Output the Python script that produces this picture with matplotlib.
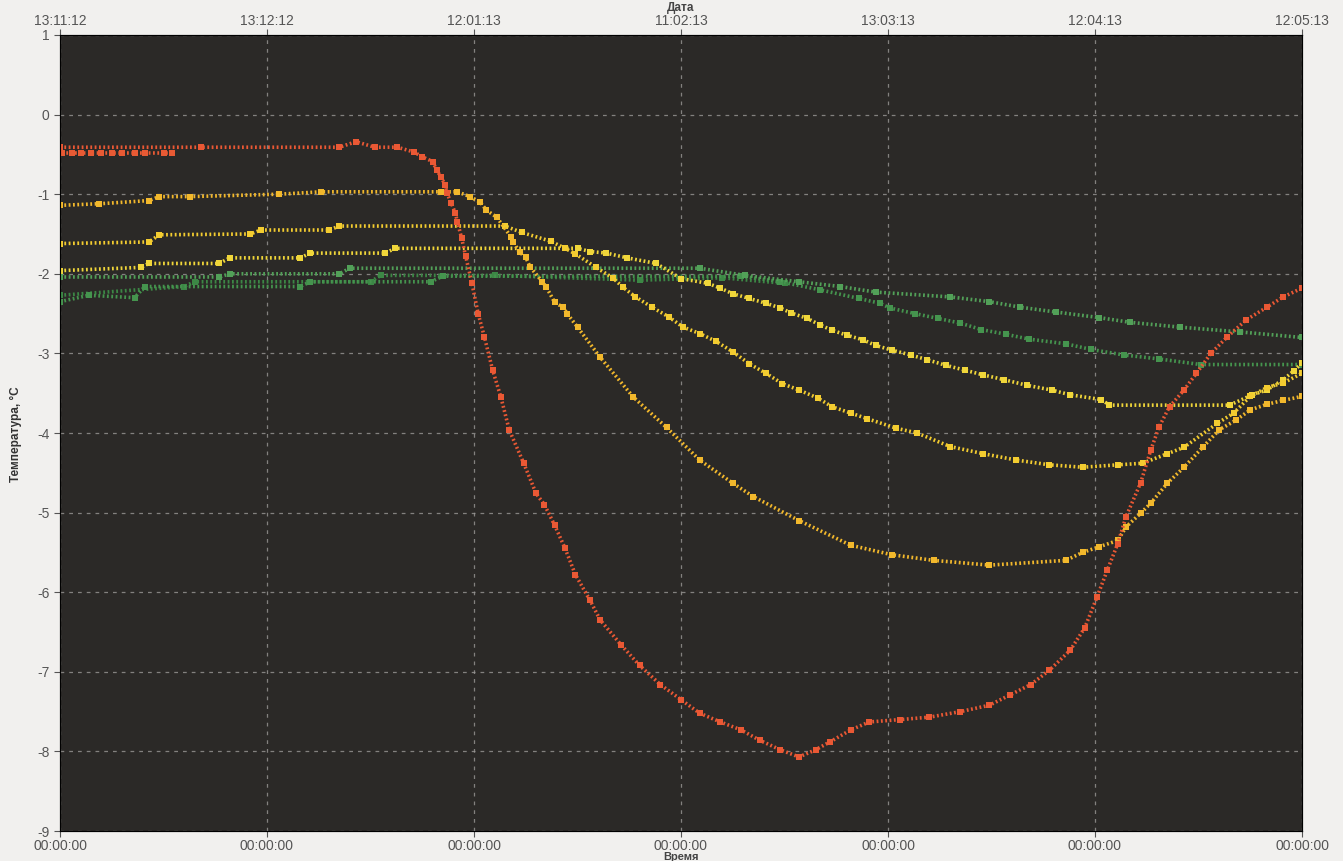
import matplotlib
matplotlib.use('Agg')
import matplotlib.pyplot as plt

plt.rcParams['axes.unicode_minus'] = False

# x in months from the first date tick, y in degrees C
top_labels = ['13:11:12', '13:12:12', '12:01:13', '11:02:13', '13:03:13', '12:04:13', '12:05:13']
bottom_labels = ['00:00:00'] * 7

red_x = [0.0, 0.68, 1.35, 1.43, 1.52, 1.63, 1.71, 1.75, 1.80, 1.82, 1.84, 1.86, 1.87, 1.89, 1.91,
         1.92, 1.94, 1.96, 1.99, 2.02, 2.05, 2.09, 2.13, 2.17, 2.24, 2.30, 2.34, 2.39, 2.44, 2.49,
         2.56, 2.61, 2.71, 2.80, 2.90, 3.00, 3.09, 3.19, 3.29, 3.38, 3.48, 3.57, 3.65, 3.72, 3.82,
         3.91, 4.06, 4.20, 4.35, 4.49, 4.59, 4.69, 4.78, 4.88, 4.95, 5.01, 5.06, 5.11, 5.15, 5.22,
         5.27, 5.31, 5.36, 5.43, 5.49, 5.56, 5.64, 5.73, 5.83, 5.91, 6.0]
red_y = [-0.41, -0.41, -0.41, -0.34, -0.41, -0.41, -0.47, -0.53, -0.59, -0.70, -0.78, -0.88, -0.99, -1.11, -1.24,
         -1.35, -1.55, -1.78, -2.12, -2.50, -2.79, -3.21, -3.55, -3.96, -4.38, -4.76, -4.90, -5.16, -5.45, -5.78,
         -6.10, -6.35, -6.66, -6.92, -7.16, -7.35, -7.52, -7.63, -7.73, -7.86, -7.98, -8.07, -7.98, -7.88, -7.73,
         -7.63, -7.60, -7.57, -7.50, -7.42, -7.29, -7.16, -6.98, -6.73, -6.45, -6.06, -5.72, -5.39, -5.05, -4.63,
         -4.21, -3.92, -3.67, -3.46, -3.25, -3.00, -2.79, -2.58, -2.42, -2.29, -2.18]

red2_x = [0.01, 0.06, 0.10, 0.15, 0.20, 0.25, 0.30, 0.36, 0.41, 0.50, 0.54]
red2_y = [-0.48] * 11

yel1_x = [0.0, 0.19, 0.43, 0.48, 0.63, 1.06, 1.26, 1.84, 1.92, 1.98, 2.03, 2.06, 2.11, 2.18, 2.19,
          2.22, 2.25, 2.27, 2.33, 2.35, 2.39, 2.43, 2.45, 2.50, 2.61, 2.77, 2.93, 3.09, 3.25, 3.35,
          3.57, 3.82, 4.02, 4.22, 4.49, 4.86, 4.94, 5.02, 5.11, 5.15, 5.22, 5.27, 5.35, 5.43, 5.52,
          5.60, 5.68, 5.75, 5.83, 5.91, 6.0]
yel1_y = [-1.14, -1.12, -1.08, -1.03, -1.03, -1.0, -0.97, -0.97, -0.97, -1.03, -1.10, -1.20, -1.29, -1.54, -1.60,
          -1.73, -1.79, -1.91, -2.10, -2.17, -2.36, -2.42, -2.50, -2.67, -3.05, -3.55, -3.93, -4.34, -4.63, -4.80,
          -5.10, -5.41, -5.53, -5.60, -5.66, -5.60, -5.50, -5.43, -5.35, -5.18, -5.01, -4.88, -4.63, -4.43, -4.18,
          -3.96, -3.84, -3.71, -3.64, -3.59, -3.54]

yel2_x = [0.0, 0.43, 0.48, 0.92, 0.97, 1.30, 1.35, 2.15, 2.23, 2.37, 2.44, 2.49, 2.59, 2.67, 2.72,
          2.78, 2.86, 2.94, 3.01, 3.09, 3.17, 3.25, 3.33, 3.41, 3.49, 3.57, 3.66, 3.73, 3.82, 3.90,
          4.04, 4.14, 4.30, 4.46, 4.62, 4.78, 4.94, 5.11, 5.23, 5.35, 5.43, 5.59, 5.67, 5.75, 5.83,
          5.91, 6.0]
yel2_y = [-1.62, -1.60, -1.51, -1.50, -1.45, -1.45, -1.40, -1.40, -1.48, -1.59, -1.68, -1.75, -1.92, -2.05, -2.17,
          -2.29, -2.42, -2.54, -2.67, -2.75, -2.85, -2.98, -3.13, -3.25, -3.38, -3.46, -3.56, -3.67, -3.75, -3.82,
          -3.94, -4.00, -4.17, -4.26, -4.34, -4.40, -4.43, -4.40, -4.38, -4.26, -4.18, -3.88, -3.75, -3.54, -3.43,
          -3.37, -3.25]

yel3_x = [0.0, 0.39, 0.43, 0.77, 0.82, 1.16, 1.21, 1.57, 1.62, 2.50, 2.56, 2.64, 2.74, 2.88, 3.00,
          3.13, 3.19, 3.25, 3.33, 3.41, 3.48, 3.53, 3.61, 3.67, 3.73, 3.80, 3.88, 3.94, 4.02, 4.11,
          4.19, 4.28, 4.37, 4.46, 4.56, 4.67, 4.79, 4.88, 5.03, 5.07, 5.65, 5.76, 5.83, 5.91, 5.96,
          6.0]
yel3_y = [-1.96, -1.92, -1.87, -1.87, -1.80, -1.80, -1.74, -1.74, -1.68, -1.68, -1.72, -1.74, -1.80, -1.87, -2.06,
          -2.12, -2.18, -2.25, -2.31, -2.37, -2.43, -2.49, -2.56, -2.64, -2.71, -2.77, -2.83, -2.90, -2.96, -3.02,
          -3.08, -3.15, -3.21, -3.27, -3.33, -3.40, -3.46, -3.52, -3.58, -3.65, -3.65, -3.52, -3.46, -3.33, -3.22,
          -3.12]

grn1_x = [0.0, 0.77, 0.82, 1.35, 1.40, 3.09, 3.31, 3.57, 3.77, 3.94, 4.30, 4.49, 4.64, 4.81, 5.02,
          5.17, 5.41, 5.70, 6.0]
grn1_y = [-2.04, -2.04, -2.00, -2.00, -1.93, -1.93, -2.02, -2.10, -2.16, -2.23, -2.29, -2.35, -2.42, -2.48, -2.55,
          -2.61, -2.67, -2.73, -2.80]

grn2_x = [0.0, 0.14, 0.36, 0.41, 1.16, 1.21, 1.79, 1.85, 3.29, 3.48, 3.67, 3.86, 3.96, 4.01, 4.13,
          4.24, 4.35, 4.45, 4.57, 4.68, 4.86, 4.98, 5.14, 5.31, 5.51, 6.0]
grn2_y = [-2.35, -2.27, -2.30, -2.16, -2.16, -2.10, -2.10, -2.03, -2.03, -2.10, -2.20, -2.31, -2.37, -2.43, -2.50,
          -2.56, -2.62, -2.70, -2.76, -2.82, -2.88, -2.95, -3.02, -3.07, -3.14, -3.14]

grn3_x = [0.0, 0.60, 0.65, 1.50, 1.55, 2.10, 2.80, 3.20, 3.50]
grn3_y = [-2.27, -2.16, -2.10, -2.10, -2.02, -2.02, -2.08, -2.05, -2.12]

series = [
    (grn3_x, grn3_y, '#3c8745'),
    (grn2_x, grn2_y, '#45944e'),
    (grn1_x, grn1_y, '#52a058'),
    (yel3_x, yel3_y, '#f0d63a'),
    (yel2_x, yel2_y, '#f3cc30'),
    (yel1_x, yel1_y, '#f2b82c'),
    (red2_x, red2_y, '#e85a34'),
    (red_x, red_y, '#ea5834'),
]

fig = plt.figure(figsize=(13.43, 8.61), dpi=100)
fig.patch.set_facecolor('#f1f0ee')
ax = fig.add_axes([60/1343, 1-831/861, 1242/1343, 796/861])
ax.set_facecolor('#2b2927')

for xs, ys, col in series:
    ax.plot(xs, ys, color=col, lw=2.6, linestyle=(0, (0.5, 0.7)), solid_capstyle='butt',
            marker='s', markersize=4.5, markeredgewidth=0, zorder=3)

ax.set_xlim(0, 6)
ax.set_ylim(-9, 1)
ax.set_yticks(range(-9, 2))
ax.set_xticks(range(7))
ax.set_xticklabels(bottom_labels)
ax.grid(True, color='#9a9896', lw=0.9, linestyle=(0, (3, 4)), alpha=0.8)
ax.tick_params(colors='#555555', labelsize=10, length=4, width=0.8)
ax.tick_params(axis='x', pad=2)
for lab in ax.get_xticklabels() + ax.get_yticklabels():
    lab.set_family('Liberation Sans')
for sp in ax.spines.values():
    sp.set_color('#222222')

ax2 = ax.twiny()
ax2.set_xlim(0, 6)
ax2.set_xticks(range(7))
ax2.set_xticklabels(top_labels, family='Liberation Sans')
ax2.tick_params(colors='#555555', labelsize=10, length=4, width=0.8, pad=1)

fig.text(681/1343, 1-8/861, 'Дата', ha='center', va='center', fontsize=8.5, weight='bold',
         color='#444444', family='Liberation Sans')
fig.text(681/1343, 1-857/861, 'Время', ha='center', va='center', fontsize=8, weight='bold',
         color='#444444', family='Liberation Sans')
fig.text(16/1343, 1-434/861, 'Температура, °C', ha='center', va='center', rotation=90, fontsize=8.5,
         weight='bold', color='#333333', family='Liberation Sans')

fig.savefig('out.png', dpi=100, facecolor=fig.get_facecolor())
plt.close()
